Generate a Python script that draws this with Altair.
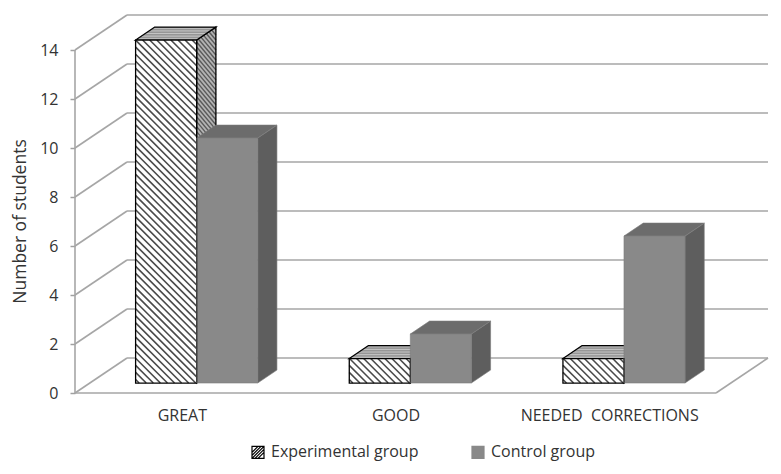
import json

import altair as alt
import numpy as np
import pandas as pd

# ---- chart data -------------------------------------------------------------
categories = ["GREAT", "GOOD", "NEEDED\u00a0 CORRECTIONS"]
groups = ["Experimental group", "Control group"]
experimental = [14, 1, 1]
control = [10, 2, 6]
y_ticks = [0, 2, 4, 6, 8, 10, 12, 14]

# ---- oblique 3-D projection (depth 0 = front plane, 1 = back wall) ----------
PLOT_W, PLOT_H = 693, 378
DEPTH_X = 52 / 213.67          # back-wall shift, in category units
DEPTH_Y = 35 / 24.5            # back-wall shift, in student units
BAR_W = 1 / 3.5                # two bars + 150 % gap per category
D0, D1 = 0.285, 0.655          # depth span of each bar
X_MAX = len(categories) + DEPTH_X
Y_MAX = max(y_ticks) + DEPTH_Y
PX = PLOT_W / X_MAX
PY = PLOT_H / Y_MAX


def shift(d):
    return d * DEPTH_X, d * DEPTH_Y


def hatch(poly, angle, spacing, color, width):
    """Parallel stripe segments clipped to a convex polygon (data units)."""
    pts = np.array([(x * PX, y * PY) for x, y in poly])
    a = np.radians(angle)
    d = np.array([np.cos(a), np.sin(a)])
    n = np.array([-d[1], d[0]])
    proj = pts @ n
    segs = []
    c = proj.min() + spacing / 2
    while c < proj.max():
        hits = []
        for k in range(len(pts)):
            p, q = pts[k], pts[(k + 1) % len(pts)]
            sp, sq = p @ n - c, q @ n - c
            if sp == sq:
                continue
            if (sp <= 0 <= sq) or (sq <= 0 <= sp):
                hits.append(p + (q - p) * (sp / (sp - sq)))
        if len(hits) >= 2:
            hits.sort(key=lambda h: h @ d)
            h0, h1 = hits[0], hits[-1]
            segs.append(dict(x=h0[0] / PX, y=h0[1] / PY,
                             x2=h1[0] / PX, y2=h1[1] / PY,
                             color=color, w=width))
        c += spacing
    return segs


styles = {
    "Experimental group": dict(front="#ffffff", side="#b4b4b4", top="#969696",
                               edge="#000000", edge_w=1.3,
                               front_hatch=(-45, 5.0, "#4a4a4a", 1.6),
                               side_hatch=(-50, 3.2, "#5a5a5a", 1.4),
                               top_hatch=(0, 2.6, "#c6c6c6", 1.0)),
    "Control group": dict(front="#898989", side="#5e5e5e", top="#6c6c6c",
                          edge="#7c7c7c", edge_w=0.6,
                          front_hatch=None, side_hatch=None, top_hatch=None),
}

fronts, sides, tops, legend_pts = [], [], [], []
front_h, side_h, top_h = [], [], []
for i, cat in enumerate(categories):
    for g, (name, vals) in enumerate(zip(groups, [experimental, control])):
        st = styles[name]
        v = vals[i]
        bar = f"{i}-{g}"
        x0 = i + 0.5 - BAR_W + g * BAR_W
        sx0, sy0 = shift(D0)
        sx1, sy1 = shift(D1)
        ddx, ddy = sx1 - sx0, sy1 - sy0
        X0, X1 = x0 + sx0, x0 + BAR_W + sx0
        Yb, Yt = sy0, v + sy0

        fronts.append(dict(bar=bar, x=X0, x2=X1, y=Yb, y2=Yt,
                           fill=st["front"], edge=st["edge"], ew=st["edge_w"]))
        sides += [dict(bar=bar, x=X1, y=Yb, y2=Yt,
                       fill=st["side"], edge=st["edge"], ew=st["edge_w"]),
                  dict(bar=bar, x=X1 + ddx, y=Yb + ddy, y2=Yt + ddy,
                       fill=st["side"], edge=st["edge"], ew=st["edge_w"])]
        tops += [dict(bar=bar, y=Yt, x=X0, x2=X1,
                      fill=st["top"], edge=st["edge"], ew=st["edge_w"]),
                 dict(bar=bar, y=Yt + ddy, x=X0 + ddx, x2=X1 + ddx,
                      fill=st["top"], edge=st["edge"], ew=st["edge_w"])]
        legend_pts.append(dict(group=name, x=(X0 + X1) / 2, y=Yb + 0.5))

        if st["front_hatch"]:
            front_h += hatch([(X0, Yb), (X1, Yb), (X1, Yt), (X0, Yt)], *st["front_hatch"])
        if st["side_hatch"]:
            side_h += hatch([(X1, Yb), (X1 + ddx, Yb + ddy), (X1 + ddx, Yt + ddy), (X1, Yt)],
                            *st["side_hatch"])
        if st["top_hatch"]:
            top_h += hatch([(X0, Yt), (X1, Yt), (X1 + ddx, Yt + ddy), (X0 + ddx, Yt + ddy)],
                           *st["top_hatch"])

# walls, floor and front axis line
walls = []
for t in y_ticks:
    walls.append(dict(x=DEPTH_X, y=t + DEPTH_Y, x2=X_MAX, y2=t + DEPTH_Y))
    walls.append(dict(x=0, y=t, x2=DEPTH_X, y2=t + DEPTH_Y))
n_cat = len(categories)
walls.append(dict(x=0, y=0, x2=n_cat, y2=0))
walls.append(dict(x=n_cat, y=0, x2=X_MAX, y2=DEPTH_Y))
walls.append(dict(x=0, y=0, x2=0, y2=max(y_ticks)))

# ---- encodings ---------------------------------------------------------------
FONT = "Open Sans"
TXT = "#333333"
xs = alt.Scale(domain=[0, X_MAX], nice=False, zero=False)
ys = alt.Scale(domain=[0, Y_MAX], nice=False, zero=False)

label_expr = f"{json.dumps(categories)}[round(datum.value - 0.5)]"

x_axis = alt.Axis(values=[i + 0.5 for i in range(n_cat)], labelExpr=label_expr,
                  domain=False, ticks=False, grid=False, title=None,
                  labelFont=FONT, labelFontSize=16, labelColor=TXT,
                  labelPadding=14, labelAngle=0, labelFlush=False,
                  labelOverlap=False)
y_axis = alt.Axis(values=y_ticks, domain=False, grid=False,
                  tickSize=5, tickColor="#a0a0a0", tickWidth=1.5,
                  labelFont=FONT, labelFontSize=16, labelColor=TXT,
                  labelPadding=12, labelFlush=False, labelOverlap=False,
                  title="Number of students", titleFont=FONT,
                  titleFontSize=17.5, titleFontWeight="normal", titleColor=TXT,
                  titleAngle=270, titleX=-55, titleY=206,
                  titleAlign="center", titleBaseline="middle")


def X(field="x", **kw):
    return alt.X(f"{field}:Q", scale=xs, axis=x_axis, **kw)


def Y(field="y", **kw):
    return alt.Y(f"{field}:Q", scale=ys, axis=y_axis, **kw)


def rules(df):
    return alt.Chart(pd.DataFrame(df)).mark_rule(strokeCap="butt").encode(
        x=X(), y=Y(), x2="x2:Q", y2="y2:Q",
        stroke=alt.Stroke("color:N", scale=None),
        strokeWidth=alt.StrokeWidth("w:Q", scale=None),
    )


legend = alt.Legend(title=None, orient="none", legendX=175, legendY=429,
                    direction="horizontal", labelFont=FONT, labelFontSize=16,
                    labelColor=TXT, symbolSize=144, symbolStrokeWidth=1.2,
                    labelOffset=5, columnPadding=50, padding=0, labelLimit=300)
exp_symbol = "M-1,-1H1V1H-1Z M-1,0L0,-1 M-1,0.5L0.5,-1 M-1,1L1,-1 M-0.5,1L1,-0.5 M0,1L1,0"

legend_layer = alt.Chart(pd.DataFrame(legend_pts)).mark_point(
    filled=True, size=144, strokeWidth=1.2, opacity=1
).encode(
    x=X(), y=Y(),
    shape=alt.Shape("group:N", scale=alt.Scale(domain=groups, range=[exp_symbol, "square"]),
                    legend=legend),
    fill=alt.Fill("group:N", scale=alt.Scale(domain=groups, range=["#ffffff", "#898989"]),
                  legend=legend),
    stroke=alt.Stroke("group:N", scale=alt.Scale(domain=groups, range=["#000000", "#898989"]),
                      legend=legend),
)

wall_layer = alt.Chart(pd.DataFrame(walls)).mark_rule(
    color="#a6a6a6", strokeWidth=1.6
).encode(x=X(), y=Y(), x2="x2:Q", y2="y2:Q")

side_df = pd.DataFrame(sides)
side_fill = alt.Chart(side_df).mark_area(orient="vertical").encode(
    x=X(), y=Y(stack=None), y2="y2:Q",
    detail="bar:N", fill=alt.Fill("fill:N", scale=None),
)
side_edge = alt.Chart(side_df).mark_area(orient="vertical", fillOpacity=0).encode(
    x=X(), y=Y(stack=None), y2="y2:Q",
    detail="bar:N", stroke=alt.Stroke("edge:N", scale=None),
    strokeWidth=alt.StrokeWidth("ew:Q", scale=None),
)

top_df = pd.DataFrame(tops)
top_fill = alt.Chart(top_df).mark_area(orient="horizontal").encode(
    y=Y(), x=X(stack=None), x2="x2:Q",
    detail="bar:N", fill=alt.Fill("fill:N", scale=None),
)
top_edge = alt.Chart(top_df).mark_area(orient="horizontal", fillOpacity=0).encode(
    y=Y(), x=X(stack=None), x2="x2:Q",
    detail="bar:N", stroke=alt.Stroke("edge:N", scale=None),
    strokeWidth=alt.StrokeWidth("ew:Q", scale=None),
)

front_df = pd.DataFrame(fronts)
front_fill = alt.Chart(front_df).mark_rect().encode(
    x=X(), x2="x2:Q", y=Y(), y2="y2:Q", fill=alt.Fill("fill:N", scale=None),
)
front_edge = alt.Chart(front_df).mark_rect(fillOpacity=0).encode(
    x=X(), x2="x2:Q", y=Y(), y2="y2:Q",
    stroke=alt.Stroke("edge:N", scale=None),
    strokeWidth=alt.StrokeWidth("ew:Q", scale=None),
)

chart = alt.layer(
    legend_layer, wall_layer,
    side_fill, rules(side_h), side_edge,
    top_fill, rules(top_h), top_edge,
    front_fill, rules(front_h), front_edge,
).properties(
    width=PLOT_W, height=PLOT_H, autosize="none",
    padding={"left": 75, "top": 15, "right": 13, "bottom": 81},
    background="#ffffff",
).configure_view(stroke=None)

chart.save("out.html", embed_options={"renderer": "svg", "actions": False})
